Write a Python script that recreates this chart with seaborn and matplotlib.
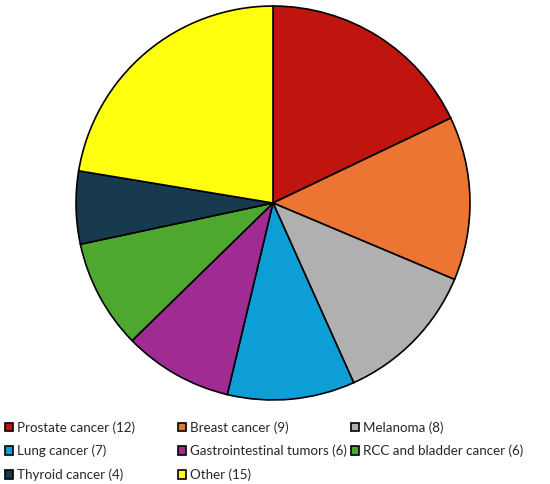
import matplotlib
matplotlib.use("Agg")
import matplotlib.pyplot as plt
import seaborn as sns
from matplotlib.patches import Patch

sns.set_theme(style="white")
plt.rcParams['font.family'] = ['Lato', 'DejaVu Sans']

categories = ["Prostate cancer", "Breast cancer", "Melanoma", "Lung cancer",
              "Gastrointestinal tumors", "RCC and bladder cancer", "Thyroid cancer", "Other"]
values = [12, 9, 8, 7, 6, 6, 4, 15]
colors = ["#C0140F", "#ED7533", "#B0B0B0", "#0E9ED6", "#A02B93", "#4EA72E", "#173A4E", "#FFFF0E"]

fig = plt.figure(figsize=(5.5, 4.84), dpi=100)
ax = fig.add_axes([273/550 - 0.36, 1 - 203/484 - 0.409, 0.72, 0.818])
ax.pie(values, colors=colors, startangle=90, counterclock=False,
       wedgeprops=dict(edgecolor="black", linewidth=1.2))
ax.set_xlim(-1.005, 1.005)
ax.set_ylim(-1.005, 1.005)
ax.set_aspect("equal")

labels = [f"{c} ({v})" for c, v in zip(categories, values)]
handles = [Patch(facecolor=col, edgecolor="black", linewidth=1.2) for col in colors]

cols = [[0, 3, 6], [1, 4, 7], [2, 5]]
xs = [5, 178, 351]
for idx, x in zip(cols, xs):
    fig.legend([handles[i] for i in idx], [labels[i] for i in idx],
               loc="upper left", bbox_to_anchor=(x/550, 1 - 421/484),
               frameon=False, fontsize=9.6, handlelength=0.62, handleheight=0.62,
               handletextpad=0.25, labelspacing=0.85, borderpad=0, borderaxespad=0)

fig.savefig("out.png", dpi=100)
